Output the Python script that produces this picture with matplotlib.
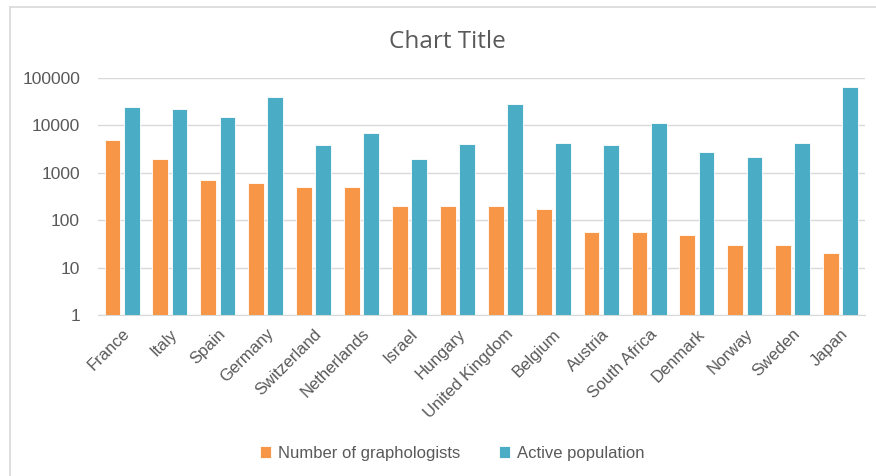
import numpy as np
import matplotlib.pyplot as plt
from matplotlib.lines import Line2D

countries = ["France", "Italy", "Spain", "Germany", "Switzerland", "Netherlands",
             "Israel", "Hungary", "United Kingdom", "Belgium", "Austria",
             "South Africa", "Denmark", "Norway", "Sweden", "Japan"]
graphologists = [5000, 2000, 700, 600, 500, 500, 200, 200, 200, 175, 58, 58, 50, 30, 30, 20]
active_pop = [25000, 22000, 15000, 39000, 3800, 7000, 2000, 4000, 28000, 4200, 3800,
              11500, 2700, 2150, 4200, 66000]

orange = "#F79646"
teal = "#4BACC6"
gray = "#595959"

plt.rcParams['font.family'] = ['Liberation Sans', 'DejaVu Sans']

fig = plt.figure(figsize=(8.76, 4.76), dpi=100)
ax = fig.add_axes([0.112, 0.338, 0.875, 0.498])

x = np.arange(len(countries))
w = 0.33
ax.bar(x - 0.2, graphologists, w, color=orange, edgecolor="white", linewidth=0.6,
       label="Number of graphologists", zorder=3)
ax.bar(x + 0.2, active_pop, w, color=teal, edgecolor="white", linewidth=0.6,
       label="Active population", zorder=3)

ax.set_yscale("log")
ax.set_ylim(1, 100000)
ax.set_xlim(-0.5, len(countries) - 0.5)
ticks = [1, 10, 100, 1000, 10000, 100000]
ax.set_yticks(ticks)
ax.set_yticklabels([str(t) for t in ticks])
ax.minorticks_off()
ax.yaxis.grid(True, color="#D9D9D9", linewidth=1, zorder=0)
for s in ["top", "right", "left"]:
    ax.spines[s].set_visible(False)
ax.spines["bottom"].set_color("#D9D9D9")
ax.tick_params(axis="both", length=0, colors=gray, labelsize=12.5)
ax.tick_params(axis="y", pad=13)
ax.tick_params(axis="x", pad=8, labelsize=12)
ax.set_xticks(x)
ax.set_xticklabels(countries, rotation=45, ha="right", rotation_mode="anchor")

fig.text(0.511, 0.912, "Chart Title", ha="center", va="center", fontsize=17.5,
         color=gray, family=["Open Sans", "DejaVu Sans"])

fig.legend(loc="center", bbox_to_anchor=(0.516, 0.048), ncol=2, frameon=False,
           fontsize=12, labelcolor=gray, handlelength=0.7, handleheight=0.7,
           columnspacing=2.3, handletextpad=0.4)

fig.add_artist(Line2D([10 / 876, 10 / 876], [0, 1 - 7 / 476], transform=fig.transFigure,
                      color="#D9D9D9", linewidth=1.2))
fig.add_artist(Line2D([10 / 876, 1], [1 - 7 / 476, 1 - 7 / 476], transform=fig.transFigure,
                      color="#D9D9D9", linewidth=1.2))

fig.savefig("out.png", dpi=100)
